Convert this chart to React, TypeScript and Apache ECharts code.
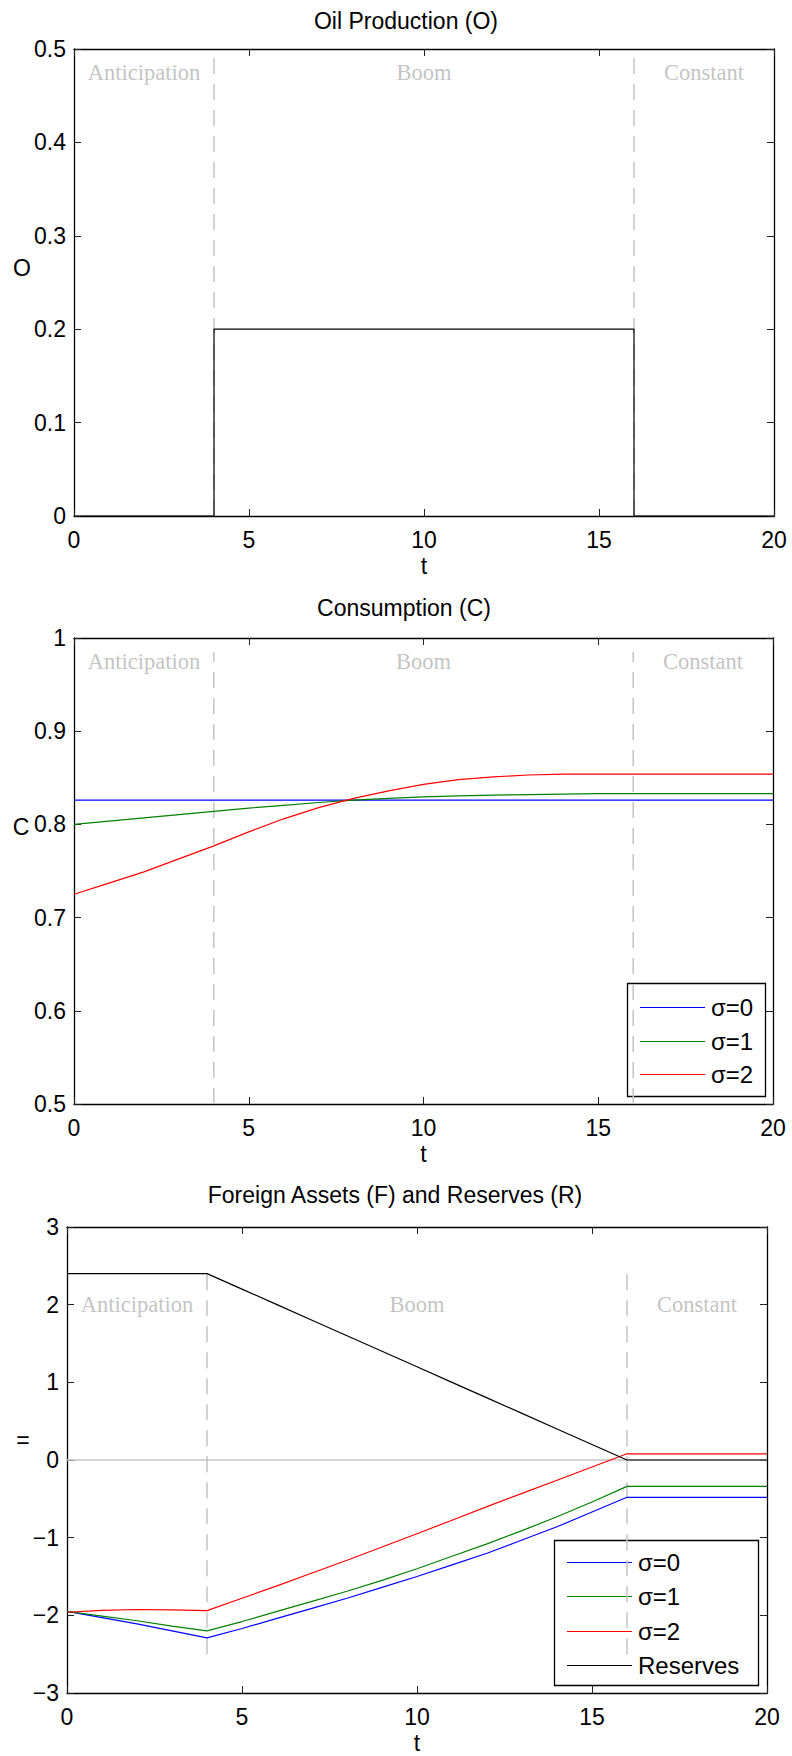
import React, { useEffect, useRef } from 'react';
import * as echarts from 'echarts';

// ---------- data ----------
const t = [0, 1, 2, 3, 4, 5, 6, 7, 8, 9, 10, 11, 12, 13, 14, 15, 16, 17, 18, 19, 20];

const oilT = [0, 4, 4, 16, 16, 20];
const oilValues = [0, 0, 0.2, 0.2, 0, 0];

const consSigma0 = [0.826, 0.826, 0.826, 0.826, 0.826, 0.826, 0.826, 0.826, 0.826, 0.826, 0.826, 0.826, 0.826, 0.826, 0.826, 0.826, 0.826, 0.826, 0.826, 0.826, 0.826];
const consSigma1 = [0.800, 0.8035, 0.807, 0.8105, 0.814, 0.8175, 0.8205, 0.8235, 0.826, 0.828, 0.8295, 0.8305, 0.8315, 0.832, 0.8325, 0.833, 0.833, 0.833, 0.833, 0.833, 0.833];
const consSigma2 = [0.725, 0.737, 0.749, 0.763, 0.777, 0.792, 0.806, 0.818, 0.828, 0.836, 0.843, 0.848, 0.851, 0.853, 0.854, 0.854, 0.854, 0.854, 0.854, 0.854, 0.854];

const faSigma0 = [-1.95, -2.03, -2.11, -2.20, -2.29, -2.17, -2.04, -1.91, -1.78, -1.64, -1.50, -1.35, -1.20, -1.03, -0.86, -0.67, -0.48, -0.48, -0.48, -0.48, -0.48];
const faSigma1 = [-1.95, -2.01, -2.07, -2.14, -2.20, -2.08, -1.95, -1.82, -1.69, -1.55, -1.40, -1.24, -1.08, -0.91, -0.73, -0.54, -0.34, -0.34, -0.34, -0.34, -0.34];
const faSigma2 = [-1.96, -1.935, -1.925, -1.93, -1.94, -1.78, -1.62, -1.455, -1.29, -1.12, -0.95, -0.775, -0.60, -0.43, -0.26, -0.09, 0.08, 0.08, 0.08, 0.08, 0.08];
const reserves = [2.4, 2.4, 2.4, 2.4, 2.4, 2.2, 2.0, 1.8, 1.6, 1.4, 1.2, 1.0, 0.8, 0.6, 0.4, 0.2, 0, 0, 0, 0, 0];

const sigmaNames = ['σ=0', 'σ=1', 'σ=2'];
const reservesName = 'Reserves';
const phaseNames = ['Anticipation', 'Boom', 'Constant'];
const phaseCenters = [2, 10, 18];
const phaseBounds = [4, 16];

const titles = ['Oil Production (O)', 'Consumption (C)', 'Foreign Assets (F) and Reserves (R)'];
const yNames = ['O', 'C', '='];
const xName = 't';
const xRange = [0, 20, 5];
const yRanges = [[0, 0.5, 0.1], [0.5, 1, 0.1], [-3, 3, 1]];
const phaseLabelY = [0.475, 0.975, 2];
const dashSpans = [[0, 0.49], [0.5, 0.985], [-2.5, 2.4]];
const zeroLine = [[0, 0], [20, 0]];

// ---------- styles ----------
const colors = ['#0000ff', '#008000', '#ff0000'];
const SANS = 'Liberation Sans';
const SERIF = 'Liberation Serif';
const FS = 23;
const LFS = 24;
const grids = [
  { left: 74, top: 49, width: 700, height: 467 },
  { left: 74, top: 638, width: 699, height: 466 },
  { left: 67, top: 1227, width: 700, height: 466 },
];
const titlePos = [[406, 21], [404, 608], [395, 1195]];
const yNamePos = [[22, 268], [21, 827], [23, 1440]];
// legend boxes: [x, y, w, h, firstRowY, rowStep, lineX0, lineX1, textX]
const legendBoxes = [
  [627, 983, 138, 113, 1007, 33.7, 640, 705, 711],
  [554, 1540, 204, 145, 1562, 34.3, 567, 632, 638],
];

const pairs = (xs: number[], ys: number[]) => xs.map((x, i) => [x, ys[i]]);
const fmt = (v: number) => String(parseFloat(Number(v).toFixed(2))).replace('-', '\u2212');

function legendGraphic(box: number[], names: string[], cols: string[]) {
  const [x, y, w, h, r0, step, lx0, lx1, tx] = box;
  const children: any[] = [
    { type: 'rect', shape: { x: x + 0.5, y: y + 0.5, width: w, height: h }, style: { fill: '#fff', stroke: '#000', lineWidth: 1.3 } },
  ];
  names.forEach((n, k) => {
    const ry = Math.round(r0 + k * step) + 0.5;
    children.push({ type: 'line', shape: { x1: lx0, y1: ry, x2: lx1, y2: ry }, style: { stroke: cols[k], lineWidth: 1.2 } });
    children.push({
      type: 'text', x: tx, y: ry,
      style: { text: n, fontSize: LFS, fontFamily: SANS, fill: '#000', textAlign: 'left', textVerticalAlign: 'middle' },
    });
  });
  return { type: 'group', silent: true, z: 100, children };
}

function buildOption() {
  const xAxis: any[] = [];
  const yAxis: any[] = [];
  const series: any[] = [];
  const axisLine = { show: true, onZero: false, lineStyle: { color: '#000', width: 1.3 } };
  const axisTick = { show: true, inside: true, length: 7, lineStyle: { color: '#222', width: 1 } };

  grids.forEach((g, i) => {
    const [ymin, ymax, yint] = yRanges[i];
    xAxis.push({
      type: 'value', gridIndex: i, position: 'bottom', min: xRange[0], max: xRange[1], interval: xRange[2],
      axisLine, axisTick, splitLine: { show: false },
      axisLabel: { show: true, margin: 12, fontSize: FS, fontFamily: SANS, color: '#000', formatter: fmt },
      name: xName, nameLocation: 'middle', nameGap: 38,
      nameTextStyle: { fontSize: FS, fontFamily: SANS, color: '#000' },
    });
    xAxis.push({
      type: 'value', gridIndex: i, position: 'top', min: xRange[0], max: xRange[1], interval: xRange[2],
      axisLine, axisTick, splitLine: { show: false }, axisLabel: { show: false },
    });
    yAxis.push({
      type: 'value', gridIndex: i, position: 'left', min: ymin, max: ymax, interval: yint,
      axisLine, axisTick, splitLine: { show: false },
      axisLabel: { show: true, margin: 8, fontSize: FS, fontFamily: SANS, color: '#000', formatter: fmt },
    });
    yAxis.push({
      type: 'value', gridIndex: i, position: 'right', min: ymin, max: ymax, interval: yint,
      axisLine, axisTick, splitLine: { show: false }, axisLabel: { show: false },
    });

    const xi = 2 * i;
    const yi = 2 * i;
    phaseBounds.forEach((b) => {
      series.push({
        type: 'line', xAxisIndex: xi, yAxisIndex: yi, silent: true, symbol: 'none', z: 1,
        data: [[b, dashSpans[i][0]], [b, dashSpans[i][1]]],
        lineStyle: { color: '#c4c4c4', width: 1.5, type: [16, 10] },
      });
    });
    series.push({
      type: 'scatter', xAxisIndex: xi, yAxisIndex: yi, silent: true, symbolSize: 1, z: 1,
      itemStyle: { color: 'rgba(0,0,0,0)' },
      data: phaseNames.map((n, k) => [phaseCenters[k], phaseLabelY[i], n]),
      label: {
        show: true, position: 'inside', formatter: (p: any) => p.value[2],
        fontFamily: SERIF, fontSize: 22.5, color: '#b4b4b4',
      },
    });
  });

  const lineBase = (name: string, xi: number, data: any[], color: string, z = 3) => ({
    type: 'line', name, xAxisIndex: xi, yAxisIndex: xi, data, symbol: 'none', showSymbol: false, z,
    lineStyle: { color, width: 1.2 }, itemStyle: { color },
  });

  series.push(lineBase('Oil', 0, pairs(oilT, oilValues), '#000'));
  [consSigma0, consSigma1, consSigma2].forEach((c, k) => series.push(lineBase(sigmaNames[k], 2, pairs(t, c), colors[k])));
  series.push({
    type: 'line', xAxisIndex: 4, yAxisIndex: 4, data: zeroLine, symbol: 'none', silent: true, z: 1,
    lineStyle: { color: '#c4c4c4', width: 1.5 },
  });
  [faSigma0, faSigma1, faSigma2].forEach((c, k) => series.push(lineBase(sigmaNames[k], 4, pairs(t, c), colors[k])));
  series.push(lineBase(reservesName, 4, pairs(t, reserves), '#000'));

  const graphic: any[] = [];
  titles.forEach((tx, i) => graphic.push({
    type: 'text', x: titlePos[i][0], y: titlePos[i][1], silent: true,
    style: { text: tx, fontSize: FS, fontFamily: SANS, fill: '#000', textAlign: 'center', textVerticalAlign: 'middle' },
  }));
  yNames.forEach((tx, i) => graphic.push({
    type: 'text', x: yNamePos[i][0], y: yNamePos[i][1], silent: true,
    style: { text: tx, fontSize: FS, fontFamily: SANS, fill: '#000', textAlign: 'center', textVerticalAlign: 'middle' },
  }));
  graphic.push(legendGraphic(legendBoxes[0], sigmaNames, colors));
  graphic.push(legendGraphic(legendBoxes[1], [...sigmaNames, reservesName], [...colors, '#000']));

  return {
    animation: false,
    backgroundColor: '#fff',
    textStyle: { fontFamily: SANS },
    grid: grids.map((g) => ({ ...g, containLabel: false })),
    xAxis, yAxis, series,
    graphic,
  };
}

export default function App() {
  const ref = useRef<HTMLDivElement>(null);
  useEffect(() => {
    document.body.style.margin = '0';
    if (!ref.current) return;
    const chart = echarts.init(ref.current, undefined, { renderer: 'svg' });
    chart.setOption(buildOption() as any);
    return () => chart.dispose();
  }, []);
  return <div ref={ref} style={{ width: 792, height: 1756, position: 'absolute', left: 0, top: 0, background: '#fff' }} />;
}
